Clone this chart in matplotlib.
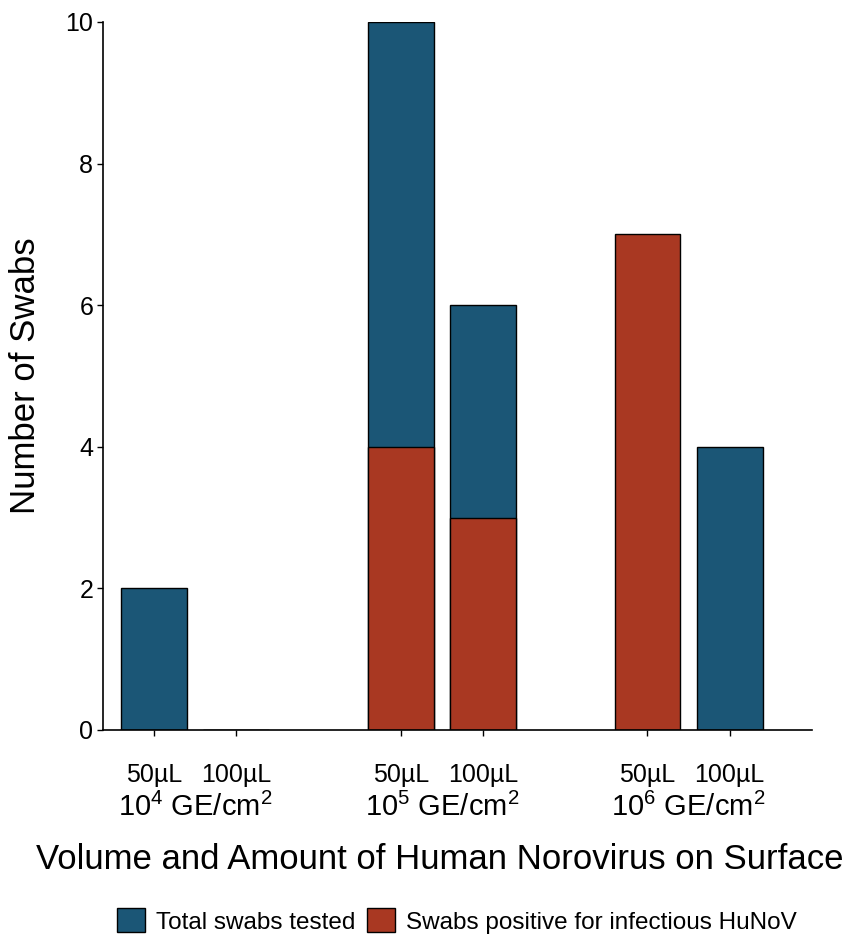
import matplotlib.pyplot as plt
from matplotlib.patches import Patch

plt.rcParams['font.family'] = ['Liberation Sans', 'DejaVu Sans']
plt.rcParams['mathtext.default'] = 'regular'

# Data
volumes = ['50µL', '100µL', '50µL', '100µL', '50µL', '100µL']
groups = [r'$10^4$ GE/cm$^2$', r'$10^5$ GE/cm$^2$', r'$10^6$ GE/cm$^2$']
total = [2, 0, 10, 6, 0, 4]
positive = [0, 0, 4, 3, 7, 0]
positions = [1, 2, 4, 5, 7, 8]

blue = '#1b5676'
red = '#a93822'

fig = plt.figure(figsize=(8.48, 9.35), dpi=100)
ax = fig.add_axes([0.1215, 0.2193, 0.836, 0.7572])

ax.bar(positions, total, width=0.8, color=blue, edgecolor='black', linewidth=1)
ax.bar(positions, positive, width=0.8, color=red, edgecolor='black', linewidth=1)

ax.set_xlim(0.38, 9.0)
ax.set_ylim(0, 10)
ax.set_yticks([0, 2, 4, 6, 8, 10])
ax.set_xticks(positions)
ax.set_xticklabels(volumes, fontsize=18)
ax.tick_params(axis='x', length=4, pad=20, width=1)
ax.tick_params(axis='y', labelsize=18, length=4, width=1, pad=3)

for s in ['top', 'right']:
    ax.spines[s].set_visible(False)
for s in ['left', 'bottom']:
    ax.spines[s].set_linewidth(1.2)

# group labels
for i, g in enumerate(groups):
    x = (positions[2 * i] + positions[2 * i + 1]) / 2
    ax.text(x, -1.1, g, ha='center', va='center', fontsize=21,
            transform=ax.transData)

ax.set_ylabel('Number of Swabs', fontsize=25)
ax.yaxis.set_label_coords(-0.086, 0.5)
fig.text(0.519, 0.081, 'Volume and Amount of Human Norovirus on Surface',
         ha='center', va='center', fontsize=25)

handles = [Patch(facecolor=blue, edgecolor='black', label='Total swabs tested'),
           Patch(facecolor=red, edgecolor='black', label='Swabs positive for infectious HuNoV')]
fig.legend(handles=handles, loc='center', bbox_to_anchor=(0.539, 0.015), ncol=2,
           frameon=False, fontsize=17.5, handlelength=1.15, handleheight=1.15,
           columnspacing=0.5, handletextpad=0.45)

fig.savefig('out.png', dpi=100)
